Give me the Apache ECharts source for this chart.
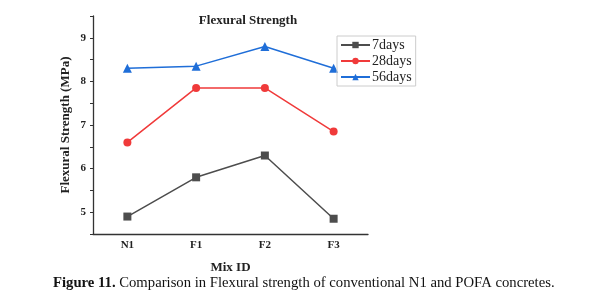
<!DOCTYPE html>
<html>
<head>
<meta charset="utf-8">
<script src="https://cdn.jsdelivr.net/npm/echarts@6/dist/echarts.min.js"></script>
<style>
  html, body { margin: 0; padding: 0; background: #fff; }
  #chart { width: 616px; height: 302px; }
</style>
</head>
<body>
<div id="chart"></div>
<script>
  var mixIds = ['N1', 'F1', 'F2', 'F3'];
  var days7 = [4.9, 5.8, 6.3, 4.85];
  var days28 = [6.6, 7.85, 7.85, 6.85];
  var days56 = [8.3, 8.35, 8.8, 8.3];

  var serif = '"Liberation Serif", "DejaVu Serif", serif';
  var chart = echarts.init(document.getElementById('chart'));

  function line(name, data, color, symbol, size) {
    return {
      name: name,
      type: 'line',
      data: data,
      symbol: symbol,
      symbolSize: size,
      showAllSymbol: true,
      lineStyle: { color: color, width: 1.5 },
      itemStyle: { color: color }
    };
  }

  chart.setOption({
    animation: false,
    title: {
      text: 'Flexural Strength',
      left: 243,
      top: 9,
      textAlign: 'center',
      textStyle: { fontFamily: serif, fontWeight: 'bold', fontSize: 13, color: '#222' }
    },
    legend: {
      orient: 'vertical',
      left: 337,
      top: 36,
      padding: [2, 4, 2, 3],
      itemGap: 2,
      itemWidth: 29,
      itemHeight: 8,
      borderColor: '#ccc',
      borderWidth: 1,
      textStyle: { fontFamily: serif, fontSize: 14, color: '#222', padding: [0, 0, 0, -3] },
      data: ['7days', '28days', '56days']
    },
    grid: { left: 93, right: 248, top: 16, bottom: 68 },
    xAxis: {
      type: 'category',
      data: mixIds,
      boundaryGap: true,
      name: 'Mix ID',
      nameLocation: 'middle',
      nameGap: 27,
      nameTextStyle: { fontFamily: serif, fontWeight: 'bold', fontSize: 13, color: '#222' },
      axisLine: { lineStyle: { color: '#333', width: 1.3 } },
      axisTick: { length: 2, lineStyle: { color: '#333' } },
      axisLabel: { fontFamily: serif, fontWeight: 'bold', fontSize: 11, color: '#222', margin: 6 },
      splitLine: { show: false }
    },
    yAxis: {
      type: 'value',
      min: 4.5,
      max: 9.5,
      interval: 0.5,
      name: 'Flexural Strength (MPa)',
      nameLocation: 'middle',
      nameGap: 21,
      nameTextStyle: { fontFamily: serif, fontWeight: 'bold', fontSize: 13, color: '#222' },
      axisLine: { show: true, lineStyle: { color: '#333', width: 1.3 } },
      axisTick: { show: true, length: 3, lineStyle: { color: '#333' } },
      axisLabel: {
        fontFamily: serif, fontWeight: 'bold', fontSize: 11, color: '#222', margin: 7,
        formatter: function (v) {
          return (Math.abs(v - Math.round(v)) < 1e-6 && v > 4.6 && v < 9.4) ? String(Math.round(v)) : '';
        }
      },
      splitLine: { show: false }
    },
    series: [
      line('7days', days7, '#4d4d4d', 'rect', 8),
      line('28days', days28, '#f03a3a', 'circle', 8),
      line('56days', days56, '#1f6ed8', 'triangle', 9)
    ],
    graphic: [{
      type: 'text',
      left: 53,
      top: 276,
      style: {
        text: '{b|Figure 11.} Comparison in Flexural strength of conventional N1 and POFA concretes.',
        rich: {
          b: { fontFamily: serif, fontWeight: 'bold', fontSize: 14.7, fill: '#111' }
        },
        font: '14.7px ' + serif,
        fill: '#111'
      }
    }]
  });
</script>
</body>
</html>
